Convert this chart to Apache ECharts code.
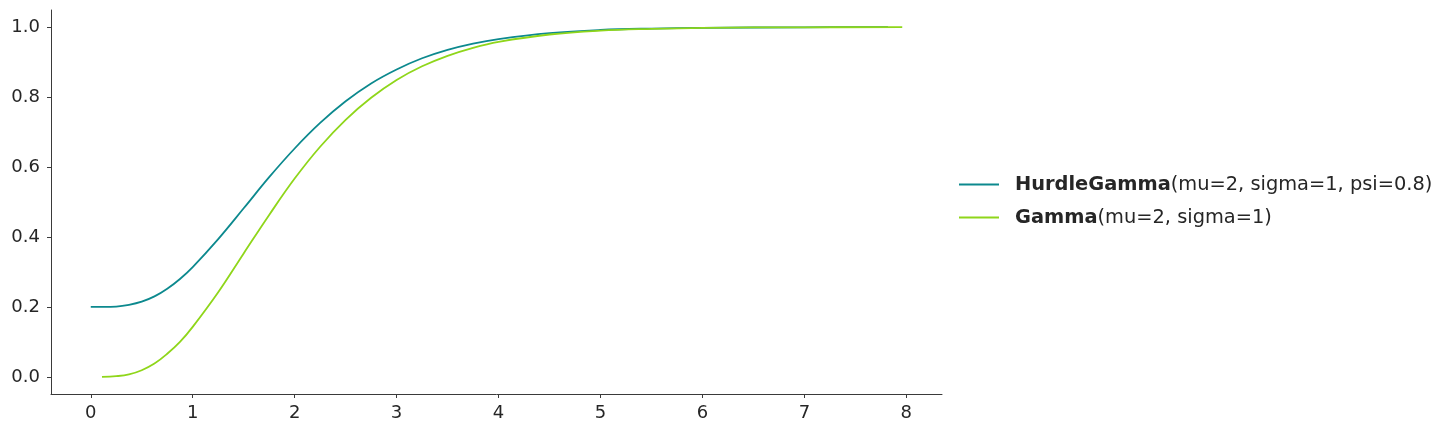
<!DOCTYPE html>
<html>
<head>
<meta charset="utf-8">
<script src="https://cdn.jsdelivr.net/npm/echarts@6/dist/echarts.min.js"></script>
<style>
  html, body { margin: 0; padding: 0; background: #fff; }
  #chart { width: 1451px; height: 433px; }
</style>
</head>
<body>
<div id="chart"></div>
<script>
// values
var hurdleX = [0, 0.125, 0.25, 0.375, 0.5, 0.625, 0.75, 0.875, 1, 1.25, 1.5, 1.75, 2, 2.25, 2.5, 2.75, 3, 3.25, 3.5, 3.75, 4, 4.5, 5, 5.5, 6, 7, 7.82];
var hurdleY = [0.200, 0.200, 0.201, 0.206, 0.215, 0.230, 0.252, 0.280, 0.314, 0.394, 0.482, 0.571, 0.653, 0.726, 0.788, 0.839, 0.879, 0.911, 0.935, 0.953, 0.966, 0.983, 0.992, 0.996, 0.998, 0.9996, 0.9999];
var gammaX = [0.11, 0.25, 0.375, 0.5, 0.625, 0.75, 0.875, 1, 1.25, 1.5, 1.75, 2, 2.25, 2.5, 2.75, 3, 3.25, 3.5, 3.75, 4, 4.5, 5, 5.5, 6, 7, 7.96];
var gammaY = [0.000, 0.002, 0.007, 0.019, 0.038, 0.066, 0.100, 0.143, 0.242, 0.353, 0.463, 0.567, 0.658, 0.735, 0.798, 0.849, 0.888, 0.918, 0.941, 0.958, 0.979, 0.990, 0.995, 0.998, 0.9995, 0.9999];
var xTicks = [0, 1, 2, 3, 4, 5, 6, 7, 8];
var yTicks = [0, 0.2, 0.4, 0.6, 0.8, 1.0];
var seriesNames = ['HurdleGamma', 'Gamma'];
var seriesParams = ['(mu=2, sigma=1, psi=0.8)', '(mu=2, sigma=1)'];
var colors = ['#0c898e', '#8fd61a'];

function pairs(xs, ys) {
    var out = [];
    for (var i = 0; i < xs.length; i++) out.push([xs[i], ys[i]]);
    return out;
}

var chart = echarts.init(document.getElementById('chart'));
var textColor = '#262626';
var axisColor = '#3a3a3a';

var option = {
    animation: false,
    textStyle: { fontFamily: 'DejaVu Sans' },
    grid: { left: 51, right: 509, top: 10, bottom: 39 },
    xAxis: {
        type: 'value',
        min: -0.39,
        max: 8.35,
        splitLine: { show: false },
        axisLine: { show: true, onZero: false, lineStyle: { color: axisColor, width: 1 } },
        axisTick: { show: true, length: 4, customValues: xTicks, lineStyle: { color: axisColor } },
        axisLabel: { customValues: xTicks, color: textColor, fontSize: 18, margin: 10 }
    },
    yAxis: {
        type: 'value',
        min: -0.049,
        max: 1.049,
        splitLine: { show: false },
        axisLine: { show: true, onZero: false, lineStyle: { color: axisColor, width: 1 } },
        axisTick: { show: true, length: 4, customValues: yTicks, lineStyle: { color: axisColor } },
        axisLabel: {
            customValues: yTicks, color: textColor, fontSize: 18, margin: 11,
            formatter: function (v) { return v.toFixed(1); }
        }
    },
    legend: {
        orient: 'vertical',
        left: 954,
        top: 170,
        itemWidth: 40,
        itemHeight: 2,
        itemGap: 14,
        icon: 'rect',
        textStyle: {
            color: textColor,
            fontSize: 19.4,
            padding: [0, 0, 0, 11],
            rich: { b: { fontWeight: 'bold', fontSize: 19.4, color: textColor } }
        },
        formatter: function (name) {
            var i = seriesNames.indexOf(name);
            return '{b|' + name + '}' + seriesParams[i];
        },
        data: seriesNames
    },
    series: [
        {
            name: seriesNames[0],
            type: 'line',
            smooth: 0.4,
            showSymbol: false,
            color: colors[0],
            lineStyle: { width: 1.8 },
            data: pairs(hurdleX, hurdleY)
        },
        {
            name: seriesNames[1],
            type: 'line',
            smooth: 0.4,
            showSymbol: false,
            color: colors[1],
            lineStyle: { width: 1.8 },
            data: pairs(gammaX, gammaY)
        }
    ]
};
chart.setOption(option);
</script>
</body>
</html>
